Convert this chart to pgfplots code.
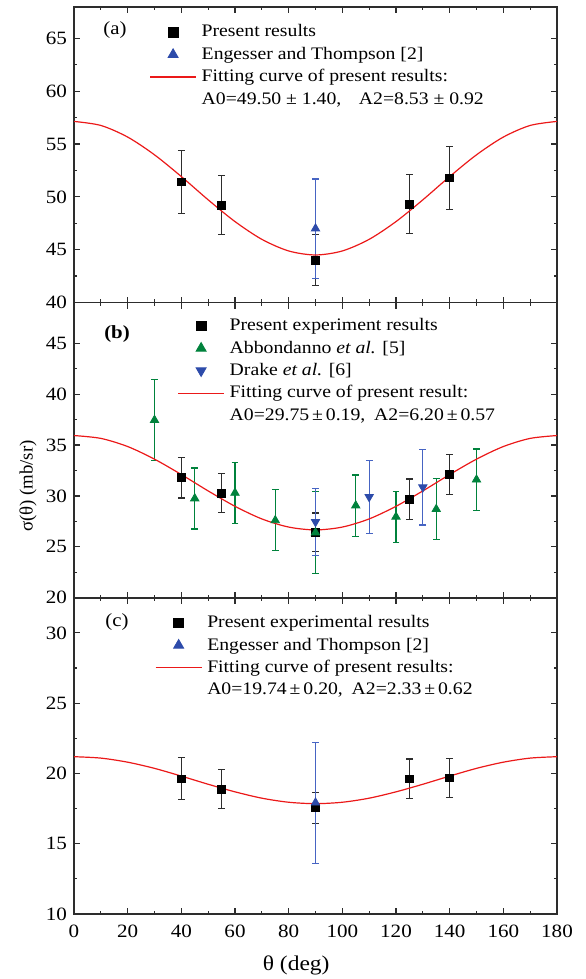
\documentclass[border=0pt]{standalone}
\usepackage{fontspec}
\setmainfont{Liberation Serif}[FakeStretch=1.12]
\newfontfamily\plainfont{Liberation Serif}
\usepackage{pgfplots}
\pgfplotsset{compat=1.18}

\definecolor{mygreen}{RGB}{0,130,60}
\definecolor{myblue}{RGB}{45,75,170}
\definecolor{errblue}{RGB}{70,100,195}
\definecolor{myred}{RGB}{235,25,25}
\definecolor{errgray}{RGB}{45,45,45}

\tikzset{plab/.style={font=\fontsize{9.3}{10}\selectfont}}
\pgfplotsset{
  panel/.style={
    scale only axis, width=241.5pt,
    xmin=0, xmax=180, xtick={0,20,...,180},
    minor x tick num=1, minor y tick num=1,
    tick align=inside, major tick length=3pt, minor tick length=1.6pt,
    axis line style={line width=0.8pt, color=errgray},
    every tick/.style={line width=0.6pt, color=errgray},
    tick label style={font=\fontsize{9.4}{11}\selectfont},
    /pgf/number format/assume math mode=true,
    legend style={draw=none, fill=none, inner sep=0pt, row sep=0pt,
      font=\fontsize{8.8}{10}\selectfont, cells={anchor=west},
      nodes={inner xsep=2.5pt, inner ysep=1.25pt, text height=6.7pt, text depth=2pt},
      anchor=north west},
    legend image code/.code={\draw[mark repeat=2,mark phase=2,#1]
      plot coordinates {(0pt,0pt) (11.5pt,0pt) (23pt,0pt)};},
  },
  errs/.style={
    /pgfplots/error bars/y dir=both, /pgfplots/error bars/y explicit,
    /pgfplots/error bars/error bar style={#1, line width=0.6pt},
    /pgfplots/error bars/error mark options={rotate=90, #1, mark size=1.7pt, line width=0.6pt},
  },
  sq/.style={only marks, mark=square*, mark size=1.9pt, color=black,
    legend image post style={mark size=2.4pt}, errs=errgray},
  fit/.style={color=myred, line width=0.6pt, smooth, no marks},
}

\begin{document}
\begin{tikzpicture}
% (a)
\begin{axis}[panel, name=a, height=147.9pt,
  ymin=40, ymax=68, ytick={40,45,...,65}, xticklabels={},
  legend style={at={(0.1555,0.953)}}]
\addplot[sq] coordinates {
  (40,51.4) +- (0,3.0) (55,49.2) +- (0,2.8) (90,44.0) +- (0,2.4)
  (125,49.3) +- (0,2.8) (140,51.8) +- (0,3.0)};
\addlegendentry{Present results}
\addplot[only marks, mark=triangle*, mark size=2.4pt, color=myblue,
  legend image post style={mark size=2.9pt}, errs=errblue] coordinates {
  (90,47.0) +- (0,4.7)};
\addlegendentry{Engesser and Thompson [2]}
\addplot[fit] coordinates {
  (0,57.14) (10,56.76) (20,55.66) (30,53.98) (40,51.92) (50,49.72) (60,47.66)
  (70,45.98) (80,44.88) (90,44.50) (100,44.88) (110,45.98) (120,47.66)
  (130,49.72) (140,51.92) (150,53.98) (160,55.66) (170,56.76) (180,57.14)};
\addlegendentry{Fitting curve of present results:}
\addlegendimage{empty legend}
\addlegendentry{A0=49.50 ± 1.40,\hspace{1em}A2=8.53 ± 0.92}
\node[plab] at (rel axis cs:0.085,0.921) {(a)};
\end{axis}
% (b)
\begin{axis}[panel, name=b, at={(a.south west)}, anchor=north west, height=147.6pt,
  ymin=20, ymax=49, ytick={20,25,...,45}, xticklabels={},
  ylabel={σ(θ) (mb/sr)},
  ylabel style={font=\plainfont\fontsize{9.4}{11}\selectfont, at={(axis description cs:-0.095,0.378)}, anchor=center},
  legend style={at={(0.2135,0.960)}}]
\addplot[sq] coordinates {
  (40,31.8) +- (0,2.0) (55,30.27) +- (0,1.9) (90,26.43) +- (0,1.9)
  (125,29.67) +- (0,2.0) (140,32.1) +- (0,2.0)};
\addlegendentry{Present experiment results}
\addplot[only marks, mark=triangle*, mark size=2.4pt, color=mygreen,
  legend image post style={mark size=2.9pt}, errs=mygreen] coordinates {
  (30,37.45) +- (0,4.0) (45,29.75) +- (0,3.0) (60,30.3) +- (0,3.0)
  (75,27.6) +- (0,3.0) (90,26.4) +- (0,4.0) (105,29.05) +- (0,3.0)
  (120,27.95) +- (0,2.5) (135,28.7) +- (0,3.0) (150,31.6) +- (0,3.0)};
\addlegendentry{Abbondanno \textit{et al.} [5]}
\addplot[only marks, mark=triangle*, mark options={rotate=180}, mark size=2.4pt, color=myblue,
  legend image post style={mark size=2.9pt}, errs=errblue] coordinates {
  (90,27.45) +- (0,3.3) (110,29.9) +- (0,3.6) (130,30.85) +- (0,3.7)};
\addlegendentry{Drake \textit{et al.} [6]}
\addplot[fit] coordinates {
  (0,35.93) (10,35.65) (20,34.85) (30,33.61) (40,32.10) (50,30.49) (60,28.98)
  (70,27.74) (80,26.94) (90,26.66) (100,26.94) (110,27.74) (120,28.98)
  (130,30.49) (140,32.10) (150,33.61) (160,34.85) (170,35.65) (180,35.93)};
\addlegendentry{Fitting curve of present result:}
\addlegendimage{empty legend}
\addlegendentry{A0=29.75\,±\,0.19,\hspace{0.5em}A2=6.20\,±\,0.57}
\node[plab, font=\fontsize{9.3}{10}\selectfont\bfseries] at (rel axis cs:0.089,0.893) {(b)};
\end{axis}
% (c)
\begin{axis}[panel, name=c, at={(b.south west)}, anchor=north west, height=158.15pt,
  ymin=10, ymax=32.5, ytick={10,15,...,30},
  xlabel={θ (deg)},
  xlabel style={font=\fontsize{10.5}{12}\selectfont, at={(axis description cs:0.46,0)}, anchor=center, yshift=-25.5pt},
  xticklabel style={yshift=-2pt},
  legend style={at={(0.167,0.957)}}]
\addplot[sq] coordinates {
  (40,19.62) +- (0,1.5) (55,18.88) +- (0,1.4) (90,17.56) +- (0,1.1)
  (125,19.62) +- (0,1.4) (140,19.69) +- (0,1.4)};
\addlegendentry{Present experimental results}
\addplot[only marks, mark=triangle*, mark size=2.4pt, color=myblue,
  legend image post style={mark size=2.9pt}, errs=errblue] coordinates {
  (90,17.92) +- (0,4.3)};
\addlegendentry{Engesser and Thompson [2]}
\addplot[fit] coordinates {
  (0,21.19) (10,21.09) (20,20.80) (30,20.36) (40,19.81) (50,19.23) (60,18.69)
  (70,18.24) (80,17.95) (90,17.85) (100,17.95) (110,18.24) (120,18.69)
  (130,19.23) (140,19.81) (150,20.36) (160,20.80) (170,21.09) (180,21.19)};
\addlegendentry{Fitting curve of present results:}
\addlegendimage{empty legend}
\addlegendentry{A0=19.74\,±\,0.20,\hspace{0.5em}A2=2.33\,±\,0.62}
\node[plab] at (rel axis cs:0.089,0.923) {(c)};
\end{axis}
\pgfresetboundingbox
\path ([xshift=-37pt,yshift=3.35pt]a.north west) rectangle ([xshift=14pt,yshift=-32.5pt]c.south east);
\end{tikzpicture}
\end{document}
